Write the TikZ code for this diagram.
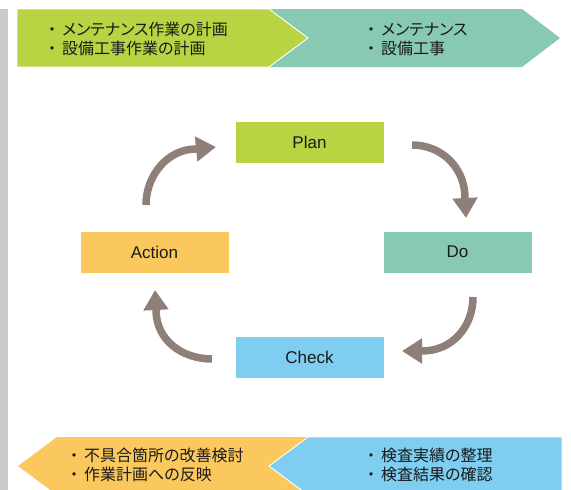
\documentclass[tikz,border=0pt]{standalone}
\usepackage{fontspec}
\setmainfont{Liberation Sans}
\newfontfamily\jpfont[RawFeature=+palt]{Noto Sans CJK JP}
\usetikzlibrary{arrows.meta}
\definecolor{pdgreen}{HTML}{B9D443}
\definecolor{pdteal}{HTML}{88C9B4}
\definecolor{pdyellow}{HTML}{FBC85D}
\definecolor{pdblue}{HTML}{7FCDF0}
\definecolor{pdarrow}{HTML}{8E8079}
\definecolor{pdbar}{HTML}{CBCBCB}
\definecolor{pdtext}{HTML}{1A1A1A}
% bullet set in a fixed-width slot
\newcommand\jbul{\hbox to 20pt{\hss・\hss}}
\tikzset{
  phasebox/.style={minimum width=148pt, minimum height=41pt, inner sep=0pt,
    text=pdtext, font=\fontsize{17}{20}\selectfont},
  band/.style={draw=white, line width=0.9pt},
  notes/.style={anchor=west, align=left, inner sep=0pt, text=pdtext,
    font=\jpfont\fontsize{16}{19}\selectfont},
  cyc/.style={draw=pdarrow, line width=7.5pt,
    -{Triangle[width=24pt,length=20pt]}}
}
\begin{document}
\begin{tikzpicture}[x=1pt,y=-1pt]
\useasboundingbox (0,0) rectangle (571,490);
\clip (0,0) rectangle (571,490);
\fill[white] (0,0) rectangle (571,490);

% side bar
\fill[pdbar] (0,9) rectangle (8,490);

% top band: plan -> do
\fill[pdteal] (269,9) -- (522,9) -- (560,38) -- (522,67) -- (269,67) -- (308,38) -- cycle;
\path[band, fill=pdgreen] (17,9) -- (269,9) -- (308,38) -- (269,67) -- (17,67) -- cycle;
\node[notes] (plannote) at (42,39) {\jbul メンテナンス作業の計画\\\jbul 設備工事作業の計画};
\node[notes] (donote) at (361,39) {\jbul メンテナンス\\\jbul 設備工事};

% bottom band: check -> action
\fill[pdyellow] (18,466) -- (57,437) -- (308,437) -- (269,466) -- (308,495) -- (57,495) -- cycle;
\path[band, fill=pdblue] (308,437) -- (562,437) -- (562,495) -- (308,495) -- (269,466) -- cycle;
\node[notes] (actnote) at (64,465) {\jbul 不具合箇所の改善検討\\\jbul 作業計画への反映};
\node[notes] (chknote) at (361,465) {\jbul 検査実績の整理\\\jbul 検査結果の確認};

% PDCA boxes
\node[phasebox, fill=pdgreen] (plan) at (309.5,142) {Plan};
\node[phasebox, fill=pdteal] (do) at (457.5,252) {Do};
\node[phasebox, fill=pdblue] (check) at (309.5,357) {Check};
\node[phasebox, fill=pdyellow] (action) at (154.5,252) {Action};

% cycle arrows
\coordinate (a1s) at (146,205); \coordinate (a1b) at (196,149); \coordinate (a1t) at (216,147);
\coordinate (a2s) at (412,145); \coordinate (a2b) at (465,198); \coordinate (a2t) at (466,218);
\coordinate (a3s) at (473,297); \coordinate (a3b) at (422,351); \coordinate (a3t) at (402,351);
\coordinate (a4s) at (212,359); \coordinate (a4b) at (156,310); \coordinate (a4t) at (155,290);
\draw[cyc] (a1s) .. controls (146,175) and (168,149) .. (a1b) -- (a1t);
\draw[cyc] (a2s) .. controls (442,145) and (465,168) .. (a2b) -- (a2t);
\draw[cyc] (a3s) .. controls (473,327) and (452,351) .. (a3b) -- (a3t);
\draw[cyc] (a4s) .. controls (182,359) and (156,340) .. (a4b) -- (a4t);
\end{tikzpicture}
\end{document}
